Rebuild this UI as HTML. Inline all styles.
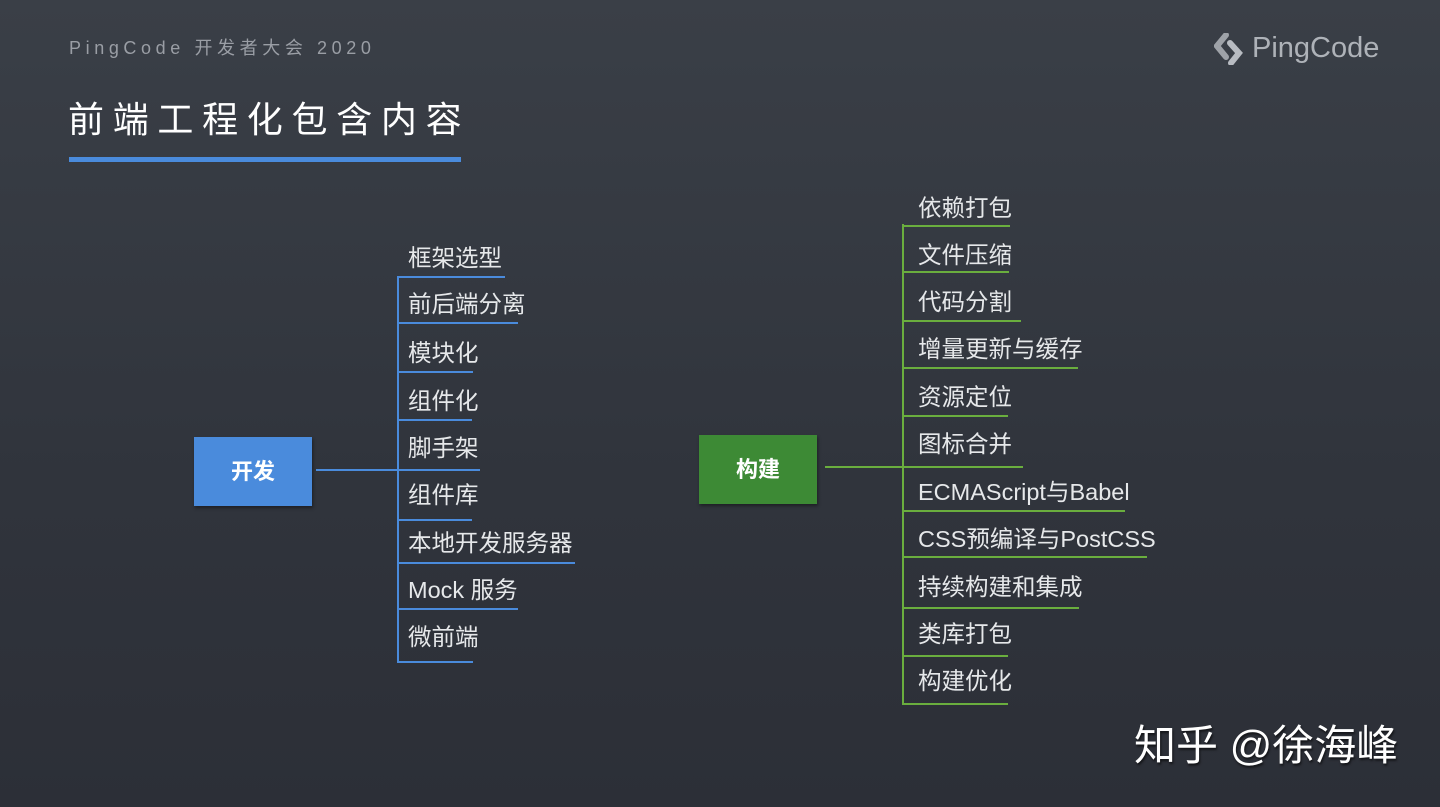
<!DOCTYPE html>
<html><head><meta charset="utf-8"><style>
html,body{margin:0;padding:0}
body{width:1440px;height:807px;position:relative;overflow:hidden;background:linear-gradient(180deg,#3a3f47 0%,#30343c 60%,#2c2f37 100%);font-family:"Liberation Sans","Noto Sans CJK SC",sans-serif;}
.t{position:absolute;color:#e6e8ea;font-size:23.5px;line-height:24px;white-space:nowrap}
</style></head><body>
<div style="position:absolute;left:69px;top:38px;font-size:18px;line-height:20px;letter-spacing:4.6px;color:#9a9ea5">PingCode 开发者大会 2020</div>
<div style="position:absolute;left:68px;top:100px;font-size:36px;line-height:40px;letter-spacing:8.7px;color:#fff">前端工程化包含内容</div>
<div style="position:absolute;left:69px;top:157px;width:392px;height:5px;background:#4a8bdc"></div>
<svg style="position:absolute;left:1214px;top:33px" width="34" height="32" viewBox="0 0 34 32">
<path d="M12 2 L3 13 L12 24" stroke="#9ea2a8" stroke-width="6" fill="none" stroke-linecap="round"/>
<path d="M16 10 L25 20 L17 30" stroke="#b8bcc2" stroke-width="6" fill="none" stroke-linecap="round"/>
</svg>
<div style="position:absolute;left:1252px;top:32px;font-size:29px;line-height:32px;color:#aeb2b8">PingCode</div>

<svg style="position:absolute;left:0;top:0" width="1440" height="807">
<g stroke="#4a8bdc" stroke-width="2" fill="none">
<line x1="398" y1="276" x2="398" y2="663"/>
<line x1="316" y1="470" x2="398" y2="470"/>
<line x1="398" y1="277" x2="505" y2="277"/>
<line x1="398" y1="323" x2="518" y2="323"/>
<line x1="398" y1="372" x2="473" y2="372"/>
<line x1="398" y1="420" x2="472" y2="420"/>
<line x1="398" y1="470" x2="480" y2="470"/>
<line x1="398" y1="520" x2="472" y2="520"/>
<line x1="398" y1="563" x2="575" y2="563"/>
<line x1="398" y1="609" x2="518" y2="609"/>
<line x1="398" y1="662" x2="473" y2="662"/>
</g>
<g stroke="#6aae3e" stroke-width="2" fill="none">
<line x1="903" y1="224" x2="903" y2="705"/>
<line x1="825" y1="467" x2="903" y2="467"/>
<line x1="903" y1="226" x2="1010" y2="226"/>
<line x1="903" y1="272" x2="1009" y2="272"/>
<line x1="903" y1="321" x2="1021" y2="321"/>
<line x1="903" y1="368" x2="1078" y2="368"/>
<line x1="903" y1="416" x2="1008" y2="416"/>
<line x1="903" y1="467" x2="1023" y2="467"/>
<line x1="903" y1="511" x2="1125" y2="511"/>
<line x1="903" y1="557" x2="1147" y2="557"/>
<line x1="903" y1="608" x2="1079" y2="608"/>
<line x1="903" y1="656" x2="1008" y2="656"/>
<line x1="903" y1="704" x2="1008" y2="704"/>
</g>
</svg>

<div style="position:absolute;left:194px;top:437px;width:118px;height:69px;background:#4a8bdc;box-shadow:1px 2px 3px rgba(0,0,0,.4);color:#fff;font-weight:bold;font-size:22px;line-height:69px;text-align:center">开发</div>
<div style="position:absolute;left:699px;top:435px;width:118px;height:69px;background:#3d8a35;box-shadow:1px 2px 3px rgba(0,0,0,.4);color:#fff;font-weight:bold;font-size:22px;line-height:69px;text-align:center">构建</div>

<div class="t" style="left:408px;top:246px">框架选型</div>
<div class="t" style="left:408px;top:292px">前后端分离</div>
<div class="t" style="left:408px;top:341px">模块化</div>
<div class="t" style="left:408px;top:389px">组件化</div>
<div class="t" style="left:408px;top:436px">脚手架</div>
<div class="t" style="left:408px;top:483px">组件库</div>
<div class="t" style="left:408px;top:531px">本地开发服务器</div>
<div class="t" style="left:408px;top:578px">Mock 服务</div>
<div class="t" style="left:408px;top:625px">微前端</div>

<div class="t" style="left:918px;top:196px">依赖打包</div>
<div class="t" style="left:918px;top:243px">文件压缩</div>
<div class="t" style="left:918px;top:290px">代码分割</div>
<div class="t" style="left:918px;top:337px">增量更新与缓存</div>
<div class="t" style="left:918px;top:385px">资源定位</div>
<div class="t" style="left:918px;top:432px">图标合并</div>
<div class="t" style="left:918px;top:480px">ECMAScript与Babel</div>
<div class="t" style="left:918px;top:527px">CSS预编译与PostCSS</div>
<div class="t" style="left:918px;top:575px">持续构建和集成</div>
<div class="t" style="left:918px;top:622px">类库打包</div>
<div class="t" style="left:918px;top:669px">构建优化</div>

<div style="position:absolute;left:1134px;top:722px;font-size:42px;line-height:48px;color:#fff;white-space:nowrap;text-shadow:1px 2px 2px rgba(0,0,0,.6)">知乎 @徐海峰</div>
</body></html>
